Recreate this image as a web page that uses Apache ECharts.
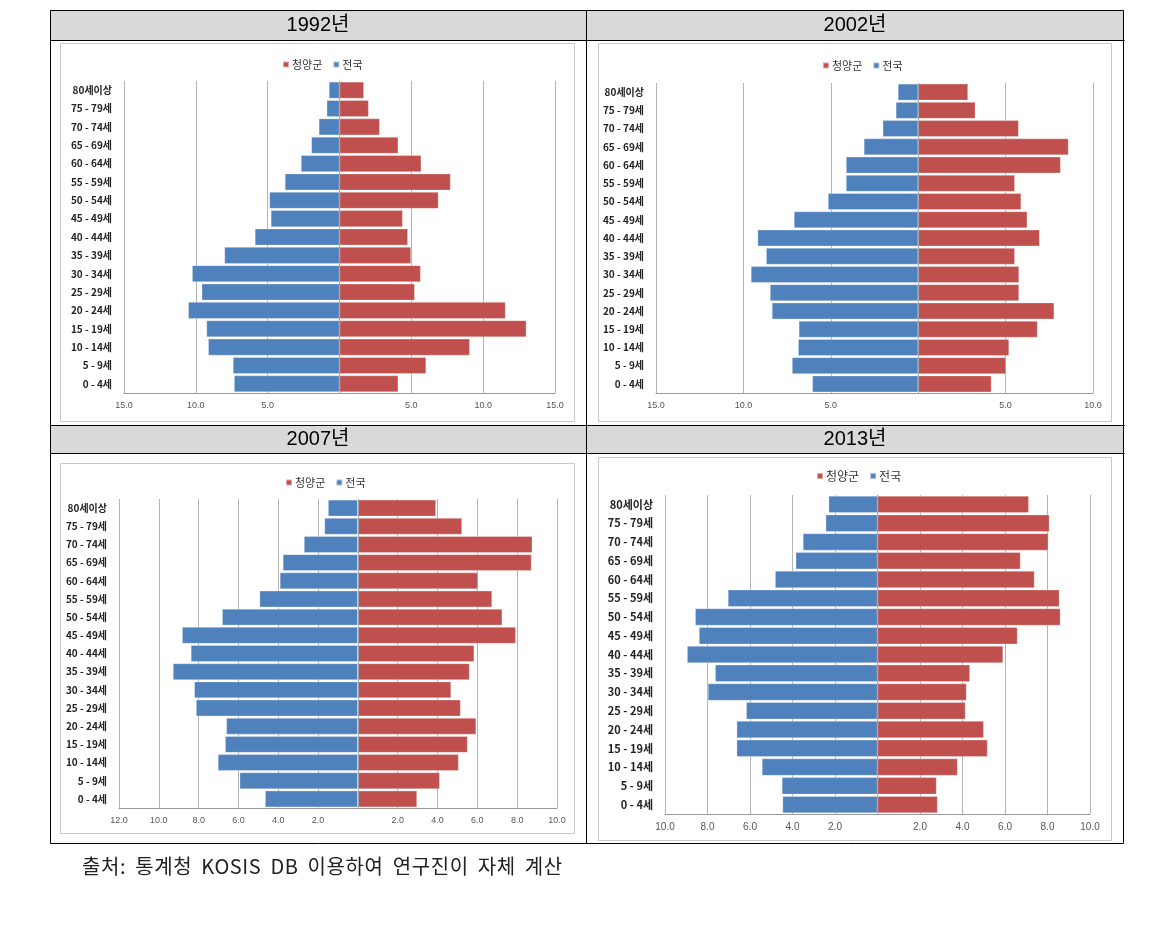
<!DOCTYPE html>
<html>
<head>
<meta charset="utf-8">
<script src="https://cdn.jsdelivr.net/npm/echarts@6/dist/echarts.min.js"></script>
<style>
html,body{margin:0;padding:0;background:#fff;}
#wrap{position:relative;width:1173px;height:935px;}
#c{position:absolute;left:0;top:0;width:1173px;height:935px;}
#src{position:absolute;left:82px;top:852px;font-family:"Noto Sans CJK KR",sans-serif;font-size:20px;line-height:28px;color:#222;letter-spacing:0.6px;word-spacing:4px;white-space:nowrap;}
</style>
</head>
<body>
<div id="wrap"><div id="c"></div><div id="src"></div></div>
<script>
// ---- data ----
const categories = ['0 - 4세','5 - 9세','10 - 14세','15 - 19세','20 - 24세','25 - 29세','30 - 34세','35 - 39세','40 - 44세','45 - 49세','50 - 54세','55 - 59세','60 - 64세','65 - 69세','70 - 74세','75 - 79세','80세이상'];
const years = ['1992년','2002년','2007년','2013년'];
const seriesNames = ['청양군','전국'];

const cheongyang1992 = [4.09, 6.03, 9.07, 13.01, 11.56, 5.24, 5.65, 4.98, 4.76, 4.40, 6.89, 7.73, 5.69, 4.09, 2.80, 2.03, 1.70];
const national1992   = [7.34, 7.42, 9.14, 9.26, 10.53, 9.59, 10.26, 8.01, 5.89, 4.78, 4.88, 3.80, 2.68, 1.96, 1.44, 0.89, 0.74];

const cheongyang2002 = [4.19, 5.02, 5.20, 6.83, 7.78, 5.77, 5.77, 5.53, 6.95, 6.24, 5.89, 5.53, 8.15, 8.60, 5.75, 3.27, 2.85];
const national2002   = [6.06, 7.22, 6.87, 6.83, 8.37, 8.48, 9.57, 8.70, 9.19, 7.11, 5.16, 4.13, 4.13, 3.11, 2.03, 1.28, 1.16];

const cheongyang2007 = [2.97, 4.11, 5.06, 5.51, 5.94, 5.16, 4.68, 5.61, 5.84, 7.93, 7.25, 6.74, 6.03, 8.72, 8.76, 5.23, 3.92];
const national2007   = [4.66, 5.94, 7.03, 6.67, 6.61, 8.13, 8.22, 9.29, 8.39, 8.83, 6.82, 4.94, 3.92, 3.77, 2.71, 1.68, 1.50];

const cheongyang2013 = [2.83, 2.78, 3.77, 5.18, 5.00, 4.14, 4.19, 4.35, 5.91, 6.59, 8.61, 8.56, 7.39, 6.73, 8.04, 8.09, 7.12];
const national2013   = [4.47, 4.50, 5.44, 6.63, 6.63, 6.18, 7.98, 7.64, 8.96, 8.40, 8.58, 7.04, 4.82, 3.85, 3.51, 2.44, 2.30];

const axisMin = [-15, -15, -12, -10];
const axisMax = [15, 10, 10, 10];
const axisInterval = [5, 5, 2, 2];
const sourceText = '출처: 통계청 KOSIS DB 이용하여 연구진이 자체 계산';

document.getElementById('src').textContent = sourceText;

// ---- layout ----
const RED = '#C0504D', BLUE = '#4F81BD';
const panels = [
  {red: cheongyang1992, blue: national1992, grid:{left:124, top:81, width:431, height:312}, legend:{left:277, top:54}, frame:[60,43,514,378], lab:10, xl:9, lg:11},
  {red: cheongyang2002, blue: national2002, grid:{left:656, top:83, width:437, height:310}, legend:{left:817, top:55}, frame:[598,43,513,378], lab:10, xl:9, lg:11},
  {red: cheongyang2007, blue: national2007, grid:{left:119, top:499, width:438, height:309}, legend:{left:280, top:472}, frame:[60,463,514,370], lab:10, xl:9, lg:11},
  {red: cheongyang2013, blue: national2013, grid:{left:665, top:495, width:425, height:319}, legend:{left:811, top:465}, frame:[598,457,513,383], lab:11, xl:10, lg:12}
];

const grid=[], xAxis=[], yAxis=[], series=[], legend=[], graphic=[];

// table header backgrounds
graphic.push({type:'rect', shape:{x:50,y:10,width:1074,height:30}, style:{fill:'#d9d9d9'}, z:-10, silent:true});
graphic.push({type:'rect', shape:{x:50,y:425,width:1074,height:28}, style:{fill:'#d9d9d9'}, z:-10, silent:true});

panels.forEach((p,i)=>{
  graphic.push({type:'rect', shape:{x:p.frame[0]+0.5,y:p.frame[1]+0.5,width:p.frame[2],height:p.frame[3]}, style:{fill:null, stroke:'#c8c8c8', lineWidth:1}, z:-5, silent:true});
  grid.push(Object.assign({containLabel:false}, p.grid));
  xAxis.push({
    type:'value', gridIndex:i, min:axisMin[i], max:axisMax[i], interval:axisInterval[i],
    axisLine:{show:true, onZero:false, lineStyle:{color:'#9a9a9a', width:1}},
    axisTick:{show:false},
    splitLine:{show:true, lineStyle:{color:'#b4b4b4', width:1}},
    axisLabel:{color:'#555', fontSize:p.xl, fontFamily:'Liberation Sans, Arial, sans-serif', margin:8,
      formatter:v=> v===0 ? '' : Math.abs(v).toFixed(1)}
  });
  yAxis.push({
    type:'category', gridIndex:i, data:categories,
    axisLine:{show:false}, axisTick:{show:false},
    axisLabel:{color:'#222', fontSize:p.lab, fontWeight:'bold', fontFamily:'"Noto Sans CJK KR", sans-serif', margin:12}
  });
  legend.push({
    data:seriesNames, left:p.legend.left, top:p.legend.top, orient:'horizontal',
    icon:'rect', itemWidth:6, itemHeight:6, itemGap:10,
    textStyle:{color:'#333', fontSize:p.lg, fontFamily:'"Noto Sans CJK KR", sans-serif', padding:[0,0,0,-2]},
    selectedMode:false
  });
  series.push({
    name:'전국', type:'bar', xAxisIndex:i, yAxisIndex:i,
    data:p.blue.map(v=>-v), barCategoryGap:'9%', barGap:'-100%',
    itemStyle:{color:BLUE, borderColor:'rgba(255,255,255,0.5)', borderWidth:0.6},
    markLine:{silent:true, symbol:'none', label:{show:false}, animation:false,
      lineStyle:{color:'#a8a8a8', type:'solid', width:1}, data:[{xAxis:0}]},
    animation:false, z:3
  });
  series.push({
    name:'청양군', type:'bar', xAxisIndex:i, yAxisIndex:i,
    data:p.red, barCategoryGap:'9%', barGap:'-100%',
    itemStyle:{color:RED, borderColor:'rgba(255,255,255,0.5)', borderWidth:0.6},
    animation:false, z:3
  });
});

// borders
const lines = [[50,40,1124,40],[50,425,1124,425],[50,453,1124,453],[586,10,586,843]];
lines.forEach(l=>graphic.push({type:'line', shape:{x1:l[0]+0.5,y1:l[1]+0.5,x2:l[2]+0.5,y2:l[3]+0.5}, style:{stroke:'#000', lineWidth:1}, z:10, silent:true}));
graphic.push({type:'rect', shape:{x:50.5,y:10.5,width:1073,height:833}, style:{fill:null, stroke:'#000', lineWidth:1}, z:10, silent:true});

// titles
const titleX = [318, 855, 318, 855], titleY = [25, 25, 439, 439];
years.forEach((t,i)=>graphic.push({type:'text', x:titleX[i], y:titleY[i], z:11,
  style:{text:t, fill:'#000', font:'20px "Liberation Sans", "Noto Sans CJK KR", sans-serif', textAlign:'center', textVerticalAlign:'middle'}}));

const chart = echarts.init(document.getElementById('c'), null, {renderer:'canvas'});
chart.setOption({animation:false, grid, xAxis, yAxis, series, legend, graphic});
</script>
</body>
</html>
